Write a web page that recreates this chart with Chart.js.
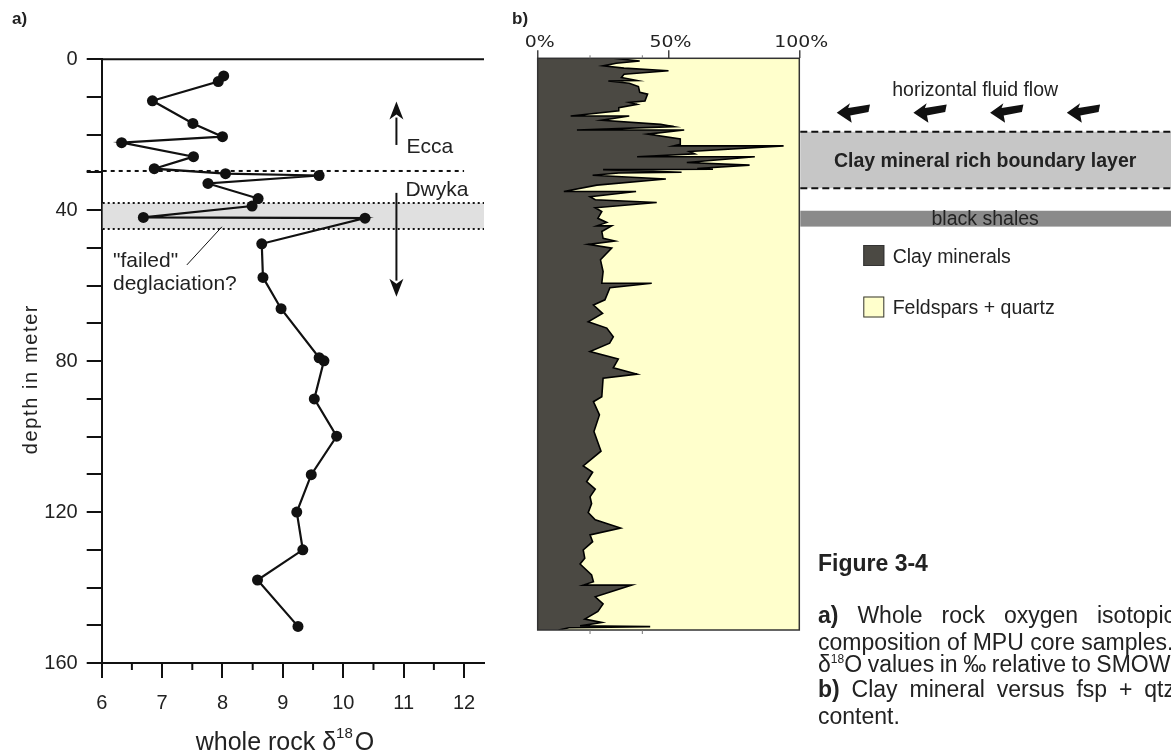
<!DOCTYPE html>
<html lang="en">
<head>
<meta charset="utf-8">
<title>MPU core: whole rock δ18O and clay content</title>
<script src="https://cdn.jsdelivr.net/npm/chart.js@4.4.1/dist/chart.umd.min.js"></script>
<style>
  html, body { margin: 0; padding: 0; background: #fff; }
  body { position: relative; width: 1171px; height: 754px; overflow: hidden;
         font-family: "Liberation Sans", Arial, sans-serif; color: #222; }
  canvas { position: absolute; top: 0; }
  #isoChart { left: 0; }
  #clayChart { left: 490px; }
  .panel { position: absolute; top: 9px; font-size: 17px; line-height: 20px; font-weight: bold; }
  .cap { position: absolute; left: 818px; width: 357px; height: 25px; font-size: 23px; line-height: 25px; white-space: nowrap; }
  .cap.just { text-align: justify; text-align-last: justify; white-space: normal; }
  .cond { word-spacing: -0.8px; }
  .sup { font-size: 12px; vertical-align: 9px; line-height: 0; }
</style>
</head>
<body>
<canvas id="isoChart" width="490" height="754"></canvas>
<canvas id="clayChart" width="681" height="754"></canvas>

<div class="panel" style="left:12px">a)</div>
<div class="panel" style="left:512px">b)</div>

<div class="cap" style="top:551px;font-weight:bold">Figure 3-4</div>
<div class="cap just" style="top:603px"><b>a)</b> Whole rock oxygen isotopic</div>
<div class="cap" style="top:629.5px">composition of MPU core samples.</div>
<div class="cap cond" style="top:652px">δ<span class="sup">18</span>O values in ‰ relative to SMOW.</div>
<div class="cap just" style="top:677px"><b>b)</b> Clay mineral versus fsp + qtz</div>
<div class="cap" style="top:704px">content.</div>

<script>
// a) whole rock δ18O (‰ SMOW) down the core, depth in m
const isoDepth = [4.4, 5.9, 11.0, 17.0, 20.5, 22.1, 25.8, 29.0, 30.3, 30.8, 32.9, 36.9, 38.9, 41.9,
                  42.1, 48.9, 57.8, 66.1, 79.1, 79.9, 90.0, 99.9, 110.1, 120.0, 130.0, 138.0, 150.3];
const isoValue = [8.02, 7.93, 6.84, 7.51, 8.00, 6.33, 7.52, 6.87, 8.05, 9.60, 7.76, 8.59, 8.49, 6.69,
                  10.36, 8.65, 8.67, 8.97, 9.60, 9.68, 9.52, 9.89, 9.47, 9.23, 9.33, 8.58, 9.25];
const eccaDwykaDepth = 29.6;       // formation contact
const failedBand = [38.1, 45.0];   // "failed" deglaciation interval

// b) clay minerals (%) vs depth, remainder is feldspar + quartz
const clayDepth = [0, 0.7, 1.3, 2.0, 2.6, 3.3, 4.2, 5.1, 5.9, 6.0, 6.6, 7.5, 9.0, 9.5, 11.3, 11.7, 12.2,
  13.1, 13.9, 15.3, 15.3, 16.4, 17.5, 18.1, 19.0, 19.0, 20.1, 21.4, 22.8, 23.2, 23.2, 24.7, 25.3, 26.1,
  26.1, 27.6, 28.3, 29.2, 29.4, 29.5, 30.2, 30.4, 31.0, 32.0, 33.6, 35.3, 35.3, 36.7, 37.5, 38.2, 39.6,
  40.6, 42.4, 43.5, 44.4, 44.4, 45.9, 47.7, 48.4, 49.3, 50.3, 53.4, 56.5, 59.6, 59.6, 60.8, 64.0, 65.4,
  67.6, 69.8, 71.5, 73.8, 75.5, 77.7, 79.7, 82.0, 83.7, 84.8, 89.7, 91.0, 94.5, 98.9, 104.1, 108.0,
  109.7, 112.2, 114.2, 116.2, 118.0, 120.4, 122.3, 124.5, 126.3, 128.1, 130.3, 132.5, 134.0, 136.9,
  138.7, 139.6, 139.6, 142.7, 144.6, 146.6, 148.6, 149.5, 150.4, 150.6, 150.9, 151.5];
const clayPct = [29, 39, 30, 25, 33, 50, 33, 32, 38, 27, 35, 38.5, 39, 42, 41, 35, 38,
  31, 31, 12.6, 35, 24.5, 47, 52, 15, 56, 42, 54.5, 54.5, 52, 94, 58, 60, 38,
  83, 57, 81, 61, 67, 25, 55, 31, 21, 49, 22.6, 10, 37.6, 20, 22, 45.5, 22,
  24.5, 23, 26.4, 22.6, 28.3, 24.5, 25, 29.5, 19.3, 28.3, 24, 25, 24.5, 43.6, 27.6, 25.7, 21.3,
  24.8, 19.3, 26.4, 28.9, 27.5, 20, 30.8, 28.9, 38, 25, 24.5, 21.3, 23.6, 21.5, 24.2, 17.4,
  21, 18.7, 22, 20, 20.6, 19.3, 22, 31.7, 20, 21, 17.4, 18, 16.2, 20.6,
  21.3, 17.4, 36, 22, 25, 23, 18, 24.5, 16.2, 43, 12, 8];
const pctTicks = [0, 50, 100];
const boundaryLayer = [19.45, 34.45];
const blackShales = [40.4, 44.6];

const FONT = '"Liberation Sans", Arial, sans-serif';
Chart.defaults.font.family = FONT;
Chart.defaults.color = '#222';

function vArrow(ctx, x0, yFrom, yTip) {
  const dir = Math.sign(yTip - yFrom);
  const head = 16, half = 7;
  ctx.beginPath();
  ctx.moveTo(x0, yFrom);
  ctx.lineTo(x0, yTip - dir * head);
  ctx.stroke();
  ctx.beginPath();
  ctx.moveTo(x0, yTip);
  ctx.lineTo(x0 - half, yTip - dir * (head + 2));
  ctx.lineTo(x0, yTip - dir * (head - 3));
  ctx.lineTo(x0 + half, yTip - dir * (head + 2));
  ctx.closePath();
  ctx.fill();
}

// fat swept arrow pointing left, tip at (tx, ty)
function flowArrow(ctx, tx, ty) {
  const p = [[0, 0], [13.3, -9.4], [11.5, -4.6], [33.3, -8.2], [31.8, -0.6], [13.6, 2.8], [15, 10]];
  ctx.beginPath();
  p.forEach(([dx, dy], i) => (i ? ctx.lineTo(tx + dx, ty + dy) : ctx.moveTo(tx + dx, ty + dy)));
  ctx.closePath();
  ctx.fill();
}

const isoDecor = {
  id: 'isoDecor',
  beforeDatasetsDraw(chart) {
    const {ctx, chartArea: a, scales: {x, y}} = chart;
    const t = y.getPixelForValue(failedBand[0]);
    const b = y.getPixelForValue(failedBand[1]);
    ctx.save();
    ctx.fillStyle = '#e0e0e0';
    ctx.fillRect(a.left + 1, t, a.right - a.left - 1, b - t);
    ctx.strokeStyle = '#111';
    ctx.lineWidth = 2;
    ctx.setLineDash([2, 3]);
    [t, b].forEach(py => {
      ctx.beginPath(); ctx.moveTo(a.left + 1, py); ctx.lineTo(a.right, py); ctx.stroke();
    });
    const yc = y.getPixelForValue(eccaDwykaDepth);
    ctx.setLineDash([4, 4]);
    ctx.beginPath(); ctx.moveTo(a.left - 15, yc); ctx.lineTo(x.getPixelForValue(12), yc); ctx.stroke();
    ctx.restore();
  },
  afterDraw(chart) {
    const {ctx, chartArea: a, scales: {x, y}} = chart;
    ctx.save();
    ctx.strokeStyle = '#111';
    ctx.fillStyle = '#111';
    ctx.lineWidth = 2;
    ctx.beginPath(); ctx.moveTo(a.left, a.top); ctx.lineTo(a.right, a.top); ctx.stroke();
    for (let v = 6.5; v < 12.3; v += 1) {
      const px = x.getPixelForValue(v);
      ctx.beginPath(); ctx.moveTo(px, a.bottom); ctx.lineTo(px, a.bottom + 7); ctx.stroke();
    }

    // Ecca up, Dwyka down
    const ax = x.getPixelForValue(10.88);
    vArrow(ctx, ax, y.getPixelForValue(22.7), y.getPixelForValue(11.2));
    vArrow(ctx, ax, y.getPixelForValue(35.4), y.getPixelForValue(62.9));

    ctx.lineWidth = 1;
    ctx.beginPath();
    ctx.moveTo(x.getPixelForValue(7.41), y.getPixelForValue(54.5));
    ctx.lineTo(x.getPixelForValue(7.99), y.getPixelForValue(44.4));
    ctx.stroke();

    ctx.fillStyle = '#222';
    ctx.font = '21px ' + FONT;
    ctx.textBaseline = 'alphabetic';
    ctx.textAlign = 'left';
    ctx.fillText('Ecca', ax + 10, 153);
    ctx.fillText('Dwyka', ax + 9, 196);
    ctx.fillText('"failed"', 113, 267);
    ctx.fillText('deglaciation?', 113, 290);

    // depth axis title
    ctx.save();
    ctx.translate(31, 379);
    ctx.rotate(-Math.PI / 2);
    ctx.font = '20px ' + FONT;
    ctx.letterSpacing = '1.6px';
    ctx.textAlign = 'center';
    ctx.textBaseline = 'middle';
    ctx.fillText('depth in meter', 0, 0);
    ctx.restore();

    // x axis title with superscript
    ctx.textAlign = 'left';
    ctx.font = '25px ' + FONT;
    const w1 = ctx.measureText('whole rock δ').width;
    const w3 = ctx.measureText('O').width;
    ctx.font = '15px ' + FONT;
    const w2 = ctx.measureText('18').width;
    let sx = 285 - (w1 + w2 + w3 + 2) / 2;
    ctx.font = '25px ' + FONT;
    ctx.fillText('whole rock δ', sx, 750);
    ctx.font = '15px ' + FONT;
    ctx.fillText('18', sx + w1, 738);
    ctx.font = '25px ' + FONT;
    ctx.fillText('O', sx + w1 + w2 + 2, 750);
    ctx.restore();
  }
};

new Chart(document.getElementById('isoChart'), {
  type: 'scatter',
  data: {
    datasets: [{
      label: 'whole rock δ18O',
      data: isoDepth.map((d, i) => ({x: isoValue[i], y: d})),
      showLine: true,
      borderColor: '#111',
      borderWidth: 2.2,
      pointRadius: 5.5,
      pointHoverRadius: 5.5,
      pointBackgroundColor: '#111',
      pointBorderWidth: 0
    }]
  },
  options: {
    responsive: false,
    animation: false,
    events: [],
    layout: {padding: {top: 59.3, right: 6, bottom: 0, left: 0}},
    plugins: {legend: {display: false}, tooltip: {enabled: false}},
    scales: {
      x: {
        type: 'linear', position: 'bottom', min: 6, max: 12.33,
        ticks: {stepSize: 1, includeBounds: false, padding: 13, font: {size: 20}, color: '#222'},
        grid: {drawOnChartArea: false, tickLength: 15, lineWidth: 2, color: '#111'},
        border: {color: '#111', width: 2},
        afterFit: s => { s.height = 91; }
      },
      y: {
        type: 'linear', reverse: true, min: 0, max: 160,
        ticks: {stepSize: 10, padding: 9, font: {size: 20}, color: '#222',
                callback: v => (v % 40 === 0 ? v : '')},
        grid: {drawOnChartArea: false, tickLength: 15, lineWidth: 2, color: '#111'},
        border: {color: '#111', width: 2},
        afterFit: s => { s.width = 101.7; }
      }
    }
  },
  plugins: [isoDecor]
});

const clayDecor = {
  id: 'clayDecor',
  afterDatasetsDraw(chart) {
    const {ctx, chartArea: a, scales: {x}} = chart;
    ctx.save();
    ctx.strokeStyle = '#333';
    ctx.lineWidth = 1.5;
    ctx.strokeRect(a.left, a.top, a.right - a.left, a.bottom - a.top);
    ctx.strokeStyle = '#777';
    ctx.lineWidth = 1;
    [20, 40].forEach(v => {
      const px = x.getPixelForValue(v);
      ctx.beginPath(); ctx.moveTo(px, a.top - 3); ctx.lineTo(px, a.top); ctx.stroke();
      ctx.beginPath(); ctx.moveTo(px, a.bottom); ctx.lineTo(px, a.bottom + 4); ctx.stroke();
    });
    ctx.restore();
  },
  afterDraw(chart) {
    const {ctx, chartArea: a, scales: {x, y}} = chart;
    const W = chart.width;
    ctx.save();
    ctx.fillStyle = '#222';
    ctx.font = '16px "DejaVu Sans", sans-serif';
    ctx.textAlign = 'center';
    ctx.textBaseline = 'alphabetic';
    pctTicks.forEach(v => {
      ctx.save();
      ctx.translate(x.getPixelForValue(v) + 2, 46.7);
      ctx.scale(1.18, 1);
      ctx.fillText(v + '%', 0, 0);
      ctx.restore();
    });

    // clay rich boundary layer
    const bt = y.getPixelForValue(boundaryLayer[0]);
    const bb = y.getPixelForValue(boundaryLayer[1]);
    ctx.fillStyle = '#c6c6c6';
    ctx.fillRect(a.right + 1, bt, W - a.right, bb - bt);
    ctx.strokeStyle = '#111';
    ctx.lineWidth = 2;
    ctx.setLineDash([7, 4]);
    [bt, bb].forEach(py => {
      ctx.beginPath(); ctx.moveTo(a.right + 1, py); ctx.lineTo(W, py); ctx.stroke();
    });
    ctx.setLineDash([]);

    // black shales
    const st = y.getPixelForValue(blackShales[0]);
    const sb = y.getPixelForValue(blackShales[1]);
    ctx.fillStyle = '#8a8a8a';
    ctx.fillRect(a.right + 1, st, W - a.right, sb - st);

    const cx = (a.right + W) / 2;
    ctx.fillStyle = '#222';
    ctx.font = 'bold 19.5px ' + FONT;
    ctx.fillText('Clay mineral rich boundary layer', cx, 167.3);
    ctx.font = '19.5px ' + FONT;
    ctx.fillText('black shales', cx, 225);
    ctx.fillText('horizontal fluid flow', cx - 10, 96);

    ctx.fillStyle = '#111';
    for (let k = 0; k < 4; k++) flowArrow(ctx, a.right + 37.4 + k * 76.7, 112.7);

    // legend, clay first
    ctx.textAlign = 'left';
    chart.data.datasets.slice().reverse().forEach((ds, k) => {
      const ly = 245 + k * 51.5;
      ctx.fillStyle = ds.backgroundColor;
      ctx.fillRect(a.right + 64, ly, 21, 21);
      ctx.strokeStyle = '#333';
      ctx.lineWidth = 1;
      ctx.strokeRect(a.right + 64.5, ly + 0.5, 20, 20);
      ctx.fillStyle = '#222';
      ctx.fillText(ds.label, a.right + 93.4, ly + 17.7);
    });
    ctx.restore();
  }
};

const clayPoints = () => clayDepth.map((d, i) => ({x: clayPct[i], y: d}));

new Chart(document.getElementById('clayChart'), {
  type: 'line',
  data: {
    datasets: [
      // higher order is drawn first, so the clay outline stays on top of the yellow
      {label: 'Feldspars + quartz', data: clayPoints(), fill: {value: 100}, order: 1,
       backgroundColor: '#ffffcc', borderWidth: 0, pointRadius: 0},
      {label: 'Clay minerals', data: clayPoints(), fill: {value: 0}, order: 0,
       backgroundColor: '#4b4943', borderColor: '#000', borderWidth: 1.6, pointRadius: 0}
    ]
  },
  options: {
    indexAxis: 'y',
    responsive: false,
    animation: false,
    events: [],
    layout: {padding: {top: 0, left: 47.7, right: 371.7, bottom: 124}},
    plugins: {legend: {display: false}, tooltip: {enabled: false}},
    elements: {line: {tension: 0}},
    scales: {
      x: {
        type: 'linear', position: 'top', min: 0, max: 100,
        ticks: {display: false, stepSize: 50},
        grid: {drawOnChartArea: false, tickLength: 8, lineWidth: 1.5, color: '#444'},
        border: {display: false},
        afterFit: s => { s.height = 58.3; }
      },
      y: {type: 'linear', reverse: true, min: 0, max: 151.5, display: false}
    }
  },
  plugins: [clayDecor]
});
</script>
</body>
</html>
